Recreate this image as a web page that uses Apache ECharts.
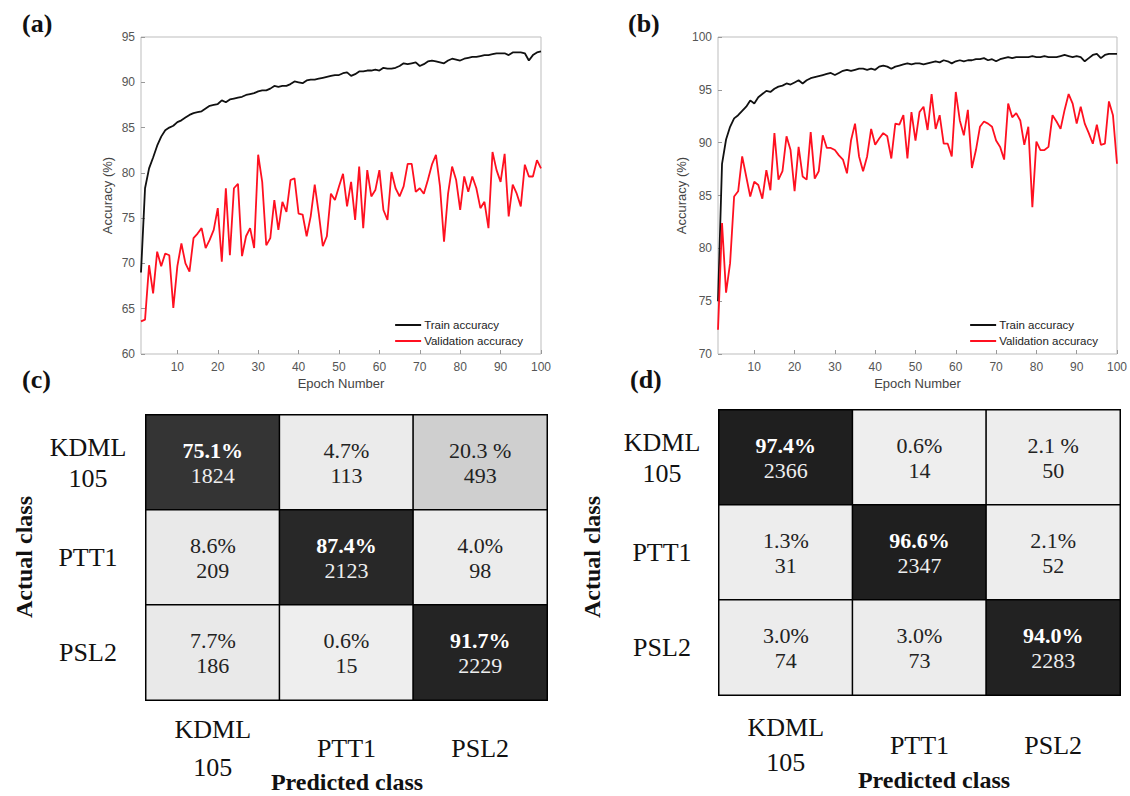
<!DOCTYPE html>
<html>
<head>
<meta charset="utf-8">
<style>
  html, body { margin: 0; padding: 0; background: #fff; }
  #main { width: 1130px; height: 796px; }
</style>
<script src="https://cdn.jsdelivr.net/npm/echarts@6/dist/echarts.min.js"></script>
</head>
<body>
<div id="main"></div>
<script>
// (a) accuracy per epoch
var trainA = [69.0, 78.3, 80.5, 81.7, 83.0, 84.0, 84.7, 85.0, 85.2, 85.6,
  85.8, 86.1, 86.4, 86.6, 86.7, 86.8, 87.1, 87.4, 87.5, 87.6,
  88.0, 87.8, 88.1, 88.2, 88.3, 88.4, 88.6, 88.7, 88.8, 89.0,
  89.1, 89.1, 89.3, 89.6, 89.5, 89.6, 89.6, 89.8, 90.1, 90.0,
  89.9, 90.2, 90.3, 90.3, 90.4, 90.5, 90.6, 90.7, 90.8, 90.8,
  91.0, 91.1, 90.7, 90.9, 91.2, 91.2, 91.3, 91.3, 91.4, 91.3,
  91.6, 91.5, 91.5, 91.6, 91.8, 92.1, 92.0, 92.1, 92.2, 91.8,
  92.0, 92.3, 92.4, 92.3, 92.2, 92.1, 92.4, 92.6, 92.5, 92.4,
  92.6, 92.7, 92.8, 92.8, 92.9, 93.0, 93.0, 93.1, 93.2, 93.2,
  93.2, 93.0, 93.3, 93.3, 93.3, 93.2, 92.4, 93.0, 93.3, 93.4];
var valA = [63.6, 63.8, 69.8, 66.7, 71.3, 69.7, 71.1, 70.9, 65.1, 69.7,
  72.2, 70.0, 69.1, 72.8, 73.3, 73.9, 71.7, 72.6, 73.7, 76.1,
  70.2, 78.3, 70.9, 78.3, 78.8, 70.8, 73.0, 73.9, 71.7, 82.0,
  79.0, 72.0, 72.8, 77.0, 73.7, 76.8, 75.7, 79.2, 79.4, 75.5,
  75.4, 73.0, 75.2, 78.7, 75.5, 71.9, 73.0, 77.7, 77.0, 78.5,
  79.9, 76.3, 79.0, 74.8, 80.7, 73.9, 80.3, 77.4, 78.1, 80.3,
  75.9, 74.8, 80.1, 78.3, 77.4, 78.5, 81.0, 81.0, 77.9, 78.3,
  77.7, 79.2, 80.9, 82.0, 78.5, 72.4, 77.7, 80.7, 79.2, 75.9,
  79.6, 77.9, 79.6, 78.3, 76.1, 76.8, 73.9, 82.3, 80.3, 79.0,
  82.1, 75.2, 78.7, 77.7, 76.3, 80.9, 79.6, 79.6, 81.4, 80.5];

// (b) accuracy per epoch
var trainB = [75.0, 88.0, 90.3, 91.5, 92.3, 92.6, 93.0, 93.4, 94.0, 93.7,
  94.3, 94.6, 94.9, 94.8, 95.1, 95.3, 95.4, 95.6, 95.5, 95.7,
  95.9, 95.6, 95.9, 96.1, 96.2, 96.3, 96.4, 96.5, 96.6, 96.4,
  96.6, 96.8, 96.9, 96.8, 96.9, 97.0, 97.0, 96.9, 97.0, 96.9,
  97.2, 97.3, 97.2, 97.0, 97.2, 97.3, 97.4, 97.5, 97.4, 97.5,
  97.5, 97.4, 97.5, 97.6, 97.7, 97.6, 97.8, 97.7, 97.5, 97.7,
  97.8, 97.7, 97.8, 97.8, 97.9, 97.9, 98.0, 97.8, 97.9, 97.7,
  97.9, 98.0, 98.1, 98.0, 98.1, 98.1, 98.1, 98.1, 98.2, 98.1,
  98.1, 98.2, 98.1, 98.1, 98.1, 98.2, 98.3, 98.2, 98.1, 98.2,
  98.1, 97.7, 98.0, 98.3, 98.4, 98.0, 98.3, 98.4, 98.4, 98.4];
var valB = [72.3, 82.4, 75.8, 78.6, 84.9, 85.4, 88.7, 86.8, 84.9, 86.3,
  86.0, 84.7, 87.4, 85.5, 90.9, 86.5, 87.3, 90.6, 89.3, 85.4,
  89.6, 86.8, 86.5, 91.0, 86.6, 87.3, 90.7, 89.5, 89.5, 89.3,
  88.8, 88.4, 87.1, 90.2, 91.8, 88.7, 87.3, 88.7, 91.3, 89.8,
  90.4, 90.9, 90.6, 88.5, 91.8, 91.7, 92.6, 88.5, 92.9, 90.2,
  92.9, 93.4, 91.2, 94.6, 91.3, 92.6, 89.9, 89.9, 88.7, 94.8,
  92.1, 90.7, 93.1, 87.6, 89.3, 91.5, 92.0, 91.8, 91.5, 90.2,
  89.6, 88.4, 93.7, 92.4, 92.8, 92.1, 89.8, 91.5, 83.9, 90.1,
  89.3, 89.3, 89.6, 92.6, 92.0, 91.3, 93.1, 94.6, 93.7, 91.8,
  93.4, 91.8, 90.9, 89.9, 91.7, 89.8, 89.9, 93.9, 92.6, 88.0];

var epochTicks = [10, 20, 30, 40, 50, 60, 70, 80, 90, 100];

// confusion matrices, rows = actual, cols = predicted
var classesY = ['KDML\n105', 'PTT1', 'PSL2'];
var classesX = ['KDML\n105', 'PTT1', 'PSL2'];
var pctC = [['75.1%', '4.7%', '20.3 %'], ['8.6%', '87.4%', '4.0%'], ['7.7%', '0.6%', '91.7%']];
var cntC = [[1824, 113, 493], [209, 2123, 98], [186, 15, 2229]];
var pctD = [['97.4%', '0.6%', '2.1 %'], ['1.3%', '96.6%', '2.1%'], ['3.0%', '3.0%', '94.0%']];
var cntD = [[2366, 14, 50], [31, 2347, 52], [74, 73, 2283]];

var greys = ['#eeeeee', '#e8e8e8', '#d0d0d0', '#adadad', '#8a8a8a', '#6a6a6a',
  '#505050', '#3a3a3a', '#2e2e2e', '#262626', '#1c1c1c'];

function pairs(arr) {
  return arr.map(function (v, i) { return [i + 1, v]; });
}

function cells(pct, cnt) {
  var out = [];
  for (var r = 0; r < 3; r++) {
    for (var c = 0; c < 3; c++) {
      out.push({ value: [c, r, parseFloat(pct[r][c])], pct: pct[r][c], cnt: cnt[r][c], diag: r == c });
    }
  }
  return out;
}

var sans = 'Liberation Sans';
var serif = 'Liberation Serif';

function lineX(idx) {
  return {
    gridIndex: idx, type: 'value', min: 1, max: 100,
    axisLine: { show: false },
    splitLine: { show: false },
    axisTick: { inside: true, length: 4, customValues: epochTicks, lineStyle: { color: '#999' } },
    axisLabel: { customValues: epochTicks, color: '#555', fontSize: 12, fontFamily: sans, margin: 7 },
    name: 'Epoch Number', nameLocation: 'middle', nameGap: 23,
    nameTextStyle: { color: '#444', fontSize: 13, fontFamily: sans }
  };
}

function lineY(idx, min, max) {
  return {
    gridIndex: idx, type: 'value', min: min, max: max, interval: 5,
    axisLine: { show: false },
    splitLine: { show: false },
    axisTick: { show: true, inside: true, length: 4, lineStyle: { color: '#999' } },
    axisLabel: { color: '#555', fontSize: 12, fontFamily: sans, margin: 6 },
    name: 'Accuracy (%)', nameLocation: 'middle', nameGap: 27, nameRotate: 90,
    nameTextStyle: { color: '#444', fontSize: 13, fontFamily: sans }
  };
}

function cmX(idx, margin, lh) {
  return {
    gridIndex: idx, type: 'category', data: classesX,
    axisLine: { show: false }, axisTick: { show: false }, splitLine: { show: false },
    axisLabel: { fontFamily: serif, fontSize: 26, color: '#111', lineHeight: lh, margin: margin, verticalAlign: 'middle' }
  };
}

function cmY(idx, margin) {
  return {
    gridIndex: idx, type: 'category', data: classesY, inverse: true,
    axisLine: { show: false }, axisTick: { show: false }, splitLine: { show: false },
    axisLabel: { fontFamily: serif, fontSize: 26, color: '#111', lineHeight: 31, margin: margin, align: 'center' }
  };
}

function lineSeries(name, data, idx, color) {
  return {
    name: name, type: 'line', xAxisIndex: idx, yAxisIndex: idx,
    data: pairs(data), symbol: 'none', color: color,
    lineStyle: { color: color, width: 1.8 }
  };
}

function cmSeries(pct, cnt, idx) {
  return {
    type: 'heatmap', xAxisIndex: idx, yAxisIndex: idx,
    data: cells(pct, cnt),
    itemStyle: { borderColor: '#000', borderWidth: 1.5 },
    emphasis: { disabled: true },
    label: {
      show: true,
      formatter: function (p) {
        var d = p.data, dark = d.value[2] > 50;
        var k = (d.diag ? 'b' : 'r') + (dark ? 'w' : 'k');
        return '{' + k + '|' + d.pct + '}\n{' + (dark ? 'nw' : 'nk') + '|' + d.cnt + '}';
      },
      rich: {
        bw: { fontFamily: serif, fontSize: 22, fontWeight: 'bold', color: '#fff', lineHeight: 25 },
        bk: { fontFamily: serif, fontSize: 22, fontWeight: 'bold', color: '#111', lineHeight: 25 },
        rw: { fontFamily: serif, fontSize: 22, color: '#fff', lineHeight: 25 },
        rk: { fontFamily: serif, fontSize: 22, color: '#222', lineHeight: 25 },
        nw: { fontFamily: serif, fontSize: 22, color: '#eee', lineHeight: 25 },
        nk: { fontFamily: serif, fontSize: 22, color: '#222', lineHeight: 25 }
      }
    }
  };
}

function legendAt(right) {
  return {
    data: ['Train accuracy', 'Validation accuracy'],
    orient: 'vertical', right: right, top: 314,
    icon: 'rect', itemWidth: 26, itemHeight: 2, itemGap: 4,
    selectedMode: false,
    textStyle: { fontSize: 11.5, color: '#222', fontFamily: sans, padding: [0, 0, 0, -2] }
  };
}

function tag(text, x, y) {
  return { type: 'text', x: x, y: y, style: { text: text, font: 'bold 26px "Liberation Serif"', fill: '#111' } };
}

function axisTitle(text, x, y, rot) {
  return {
    type: 'text', x: x, y: y, rotation: rot,
    style: { text: text, font: 'bold 24px "Liberation Serif"', fill: '#111', align: 'center', verticalAlign: 'middle' }
  };
}

var chart = echarts.init(document.getElementById('main'), null, { renderer: 'svg' });
chart.setOption({
  animation: false,
  backgroundColor: '#fff',
  grid: [
    { left: 141, top: 37, width: 400, height: 317, show: true, borderColor: '#bdbdbd', borderWidth: 1 },
    { left: 718, top: 37, width: 399, height: 317, show: true, borderColor: '#bdbdbd', borderWidth: 1 },
    { left: 146, top: 415, width: 401, height: 285 },
    { left: 719, top: 410, width: 401, height: 285 }
  ],
  xAxis: [lineX(0), lineX(1), cmX(2, 48, 38), cmX(3, 50, 35)],
  yAxis: [lineY(0, 60, 95), lineY(1, 70, 100), cmY(2, 58), cmY(3, 57)],
  legend: [legendAt(602), legendAt(27)],
  visualMap: [{
    type: 'continuous', show: false, seriesIndex: [4, 5], dimension: 2,
    min: 0, max: 100, inRange: { color: greys }
  }],
  series: [
    lineSeries('Train accuracy', trainA, 0, '#111'),
    lineSeries('Validation accuracy', valA, 0, '#ff1020'),
    lineSeries('Train accuracy', trainB, 1, '#111'),
    lineSeries('Validation accuracy', valB, 1, '#ff1020'),
    cmSeries(pctC, cntC, 2),
    cmSeries(pctD, cntD, 3)
  ],
  graphic: [
    tag('(a)', 22, 10),
    tag('(b)', 628, 10),
    tag('(c)', 22, 366),
    tag('(d)', 630, 366),
    axisTitle('Actual class', 24, 557, Math.PI / 2),
    axisTitle('Actual class', 592, 557, Math.PI / 2),
    axisTitle('Predicted class', 347, 782, 0),
    axisTitle('Predicted class', 934, 780, 0)
  ]
});
</script>
</body>
</html>
